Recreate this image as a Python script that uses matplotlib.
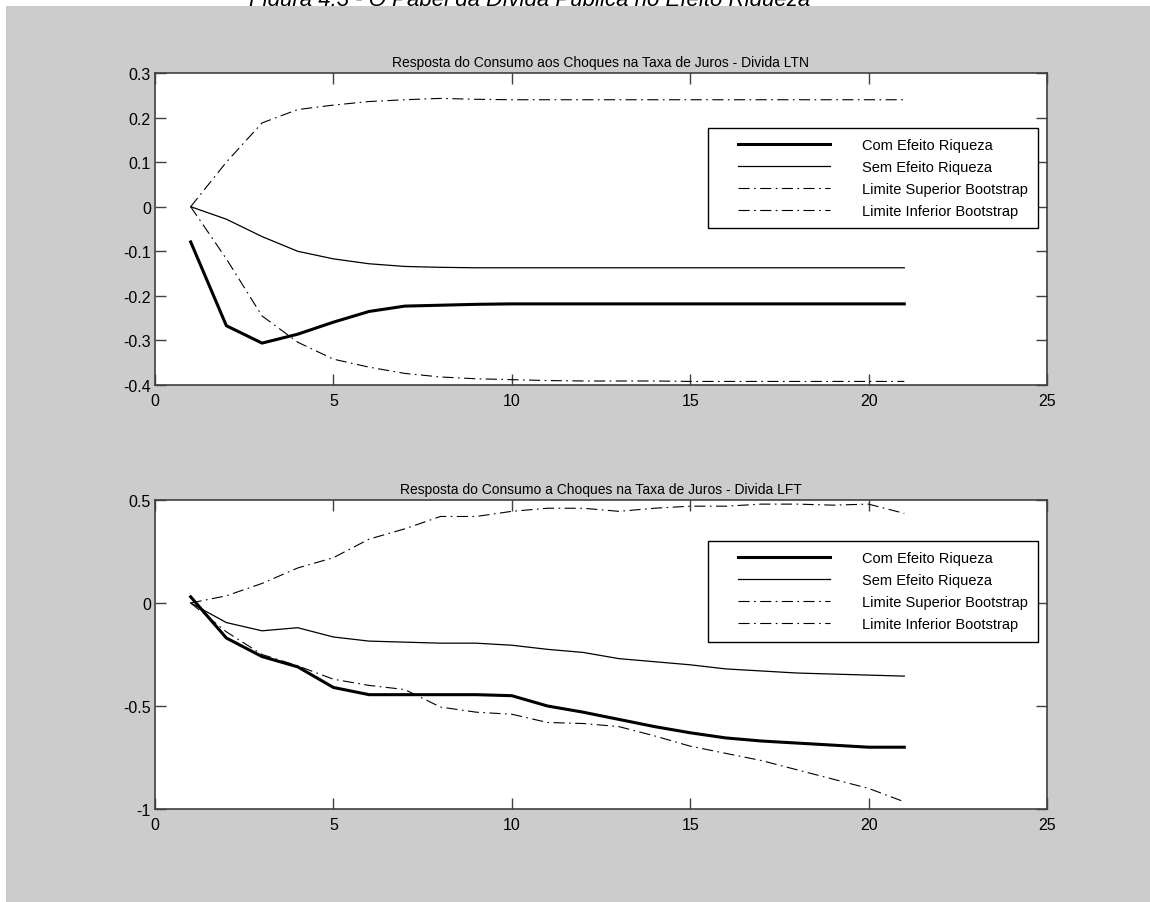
#!/usr/bin/env python3
"""
Resposta do consumo a choques na taxa de juros (LTN e LFT), estilo MATLAB.
"""

import matplotlib
matplotlib.use("Agg")
import matplotlib.pyplot as plt
from matplotlib.lines import Line2D
from matplotlib.legend_handler import HandlerLine2D
from matplotlib.patches import Rectangle


FONT = ["Liberation Sans Narrow", "Liberation Sans", "DejaVu Sans"]
BG = "#cccccc"
AXC = "#404040"

HORIZON = [1, 2, 3, 4, 5, 6, 7, 8, 9, 10, 11, 12, 13, 14, 15, 16, 17, 18, 19, 20, 21]

# Divida LTN
LTN_COM = [-0.079, -0.267, -0.306, -0.286, -0.259, -0.235, -0.223, -0.221, -0.219, -0.218,
           -0.218, -0.218, -0.218, -0.218, -0.218, -0.218, -0.218, -0.218, -0.218, -0.218, -0.218]
LTN_SEM = [0.000, -0.028, -0.067, -0.100, -0.117, -0.128, -0.134, -0.136, -0.137, -0.137,
           -0.137, -0.137, -0.137, -0.137, -0.137, -0.137, -0.137, -0.137, -0.137, -0.137, -0.137]
LTN_SUP = [0.000, 0.100, 0.188, 0.218, 0.228, 0.236, 0.240, 0.243, 0.241, 0.240,
           0.240, 0.240, 0.240, 0.240, 0.240, 0.240, 0.240, 0.240, 0.240, 0.240, 0.240]
LTN_INF = [0.000, -0.117, -0.245, -0.304, -0.342, -0.360, -0.374, -0.382, -0.386, -0.388,
           -0.390, -0.391, -0.391, -0.391, -0.392, -0.392, -0.392, -0.392, -0.392, -0.392, -0.392]

# Divida LFT
LFT_COM = [0.030, -0.170, -0.260, -0.310, -0.410, -0.445, -0.445, -0.445, -0.445, -0.450,
           -0.500, -0.530, -0.565, -0.600, -0.630, -0.655, -0.670, -0.680, -0.690, -0.700, -0.700]
LFT_SEM = [0.000, -0.095, -0.135, -0.120, -0.165, -0.185, -0.190, -0.195, -0.195, -0.205,
           -0.225, -0.240, -0.270, -0.285, -0.300, -0.320, -0.330, -0.340, -0.345, -0.350, -0.355]
LFT_SUP = [0.000, 0.035, 0.095, 0.170, 0.220, 0.310, 0.360, 0.420, 0.420, 0.445,
           0.460, 0.460, 0.445, 0.460, 0.470, 0.470, 0.480, 0.480, 0.475, 0.480, 0.435]
LFT_INF = [0.000, -0.140, -0.250, -0.305, -0.370, -0.400, -0.420, -0.505, -0.530, -0.540,
           -0.580, -0.585, -0.600, -0.645, -0.695, -0.730, -0.765, -0.810, -0.855, -0.900, -0.965]

LABELS = [
    "Com Efeito Riqueza",
    "Sem Efeito Riqueza",
    "Limite Superior Bootstrap",
    "Limite Inferior Bootstrap",
]

XTICKS = [0, 5, 10, 15, 20, 25]
LTN_YTICKS = [-0.4, -0.3, -0.2, -0.1, 0, 0.1, 0.2, 0.3]
LTN_YLABELS = ["-0.4", "-0.3", "-0.2", "-0.1", "0", "0.1", "0.2", "0.3"]
LFT_YTICKS = [-1, -0.5, 0, 0.5]
LFT_YLABELS = ["-1", "-0.5", "0", "0.5"]

DASHDOT = (0, (10, 4, 1.5, 4))


def draw_panel(ax, series, title, yticks, ylabels, ylim, legend_anchor):
    com, sem, sup, inf = series
    ax.plot(HORIZON, com, color="black", linewidth=2.2, label=LABELS[0])
    ax.plot(HORIZON, sem, color="black", linewidth=0.9, label=LABELS[1])
    ax.plot(HORIZON, sup, color="black", linewidth=0.8, linestyle=DASHDOT, label=LABELS[2])
    ax.plot(HORIZON, inf, color="black", linewidth=0.8, linestyle=DASHDOT, label=LABELS[3])

    ax.set_xlim(0, 25)
    ax.set_ylim(*ylim)
    ax.set_xticks(XTICKS)
    ax.set_xticklabels([str(t) for t in XTICKS])
    ax.set_yticks(yticks)
    ax.set_yticklabels(ylabels)
    ax.tick_params(direction="in", length=8, width=1, color=AXC,
                   top=True, right=True, labelsize=11.5)
    ax.tick_params(axis="x", pad=6)
    ax.tick_params(axis="y", pad=3)
    for lab in ax.get_xticklabels() + ax.get_yticklabels():
        lab.set_family(FONT)
    for sp in ax.spines.values():
        sp.set_color(AXC)
        sp.set_linewidth(1.2)
    ax.set_title(title, family=FONT, fontsize=10, pad=5)

    leg = ax.legend(
        loc="upper left",
        bbox_to_anchor=legend_anchor,
        prop={"family": FONT, "size": 10.5},
        numpoints=2,
        handler_map={Line2D: HandlerLine2D(marker_pad=1.36)},
        handlelength=9.0,
        handletextpad=0.84,
        borderpad=0.7,
        labelspacing=0.55,
        borderaxespad=0,
        fancybox=False,
        framealpha=1,
        edgecolor="black",
    )
    leg.get_frame().set_linewidth(1.0)


def main():
    fig = plt.figure(figsize=(11.5, 9.03), dpi=100, facecolor="white")

    # gray canvas (white strip at top and left edge)
    fig.patches.append(Rectangle((6 / 1150, 0), 1, 1 - 7 / 903,
                                 transform=fig.transFigure, facecolor=BG,
                                 edgecolor="none", zorder=-0.5))
    fig.text(530 / 1150, 1 - 6 / 903,
             "Figura 4.3 - O Papel da Dívida Pública no Efeito Riqueza",
             ha="center", va="baseline", fontsize=16, style="italic",
             family=["Liberation Sans", "DejaVu Sans"], zorder=-1)

    left = 155 / 1150
    width = 892 / 1150
    ax1 = fig.add_axes([left, 1 - 386 / 903, width, 312 / 903])
    ax2 = fig.add_axes([left, 1 - 810 / 903, width, 309 / 903])

    draw_panel(ax1, (LTN_COM, LTN_SEM, LTN_SUP, LTN_INF),
               "Resposta do Consumo aos Choques na Taxa de Juros - Divida LTN",
               LTN_YTICKS, LTN_YLABELS, (-0.4, 0.3), (0.62, 0.824))
    draw_panel(ax2, (LFT_COM, LFT_SEM, LFT_SUP, LFT_INF),
               "Resposta do Consumo a Choques na Taxa de Juros - Divida LFT",
               LFT_YTICKS, LFT_YLABELS, (-1, 0.5), (0.62, 0.867))

    fig.savefig("out.png", dpi=100, facecolor=fig.get_facecolor())
    plt.close(fig)


if __name__ == "__main__":
    main()
